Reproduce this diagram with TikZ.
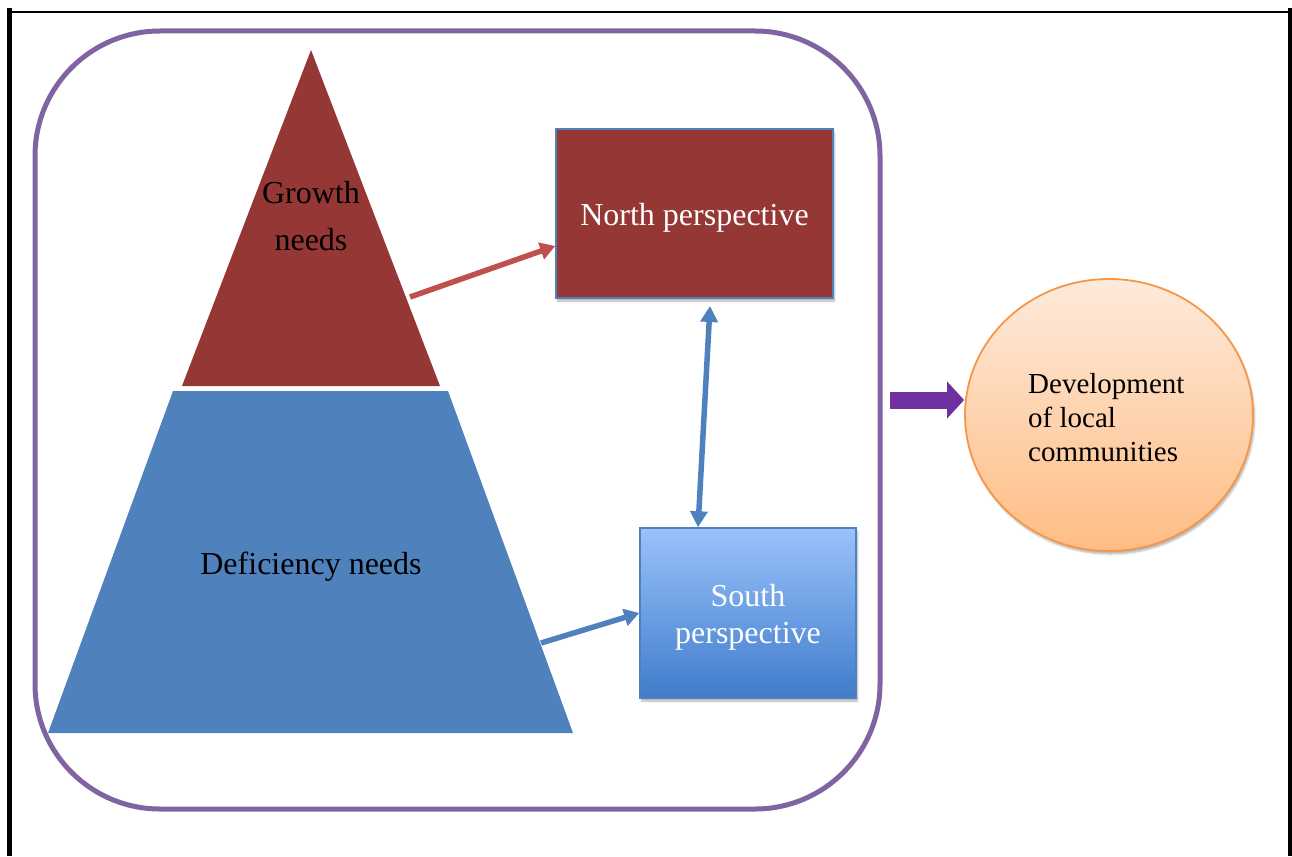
\documentclass[tikz,border=0pt]{standalone}
\usepackage{fontspec}
\setmainfont{Liberation Serif}
\usetikzlibrary{arrows.meta,shapes.geometric,shadows.blur}

\definecolor{darkred}{HTML}{953735}
\definecolor{offblue}{HTML}{4F81BD}
\definecolor{arrowred}{HTML}{C0504D}
\definecolor{framepurple}{HTML}{8064A2}
\definecolor{deeppurple}{HTML}{7030A0}
\definecolor{peachtop}{HTML}{FDEADB}
\definecolor{peachbot}{HTML}{FFBD84}
\definecolor{orangeedge}{HTML}{F79646}
\definecolor{skytop}{HTML}{9AC2FB}
\definecolor{skybot}{HTML}{3F7CCB}

\tikzset{
  big/.style={font=\fontsize{32}{38}\selectfont},
  softshadow/.style={blur shadow={shadow xshift=1.5pt,shadow yshift=-3pt,shadow opacity=30,shadow blur steps=6}},
  perspbox/.style={draw=offblue,line width=1.5pt,inner sep=0pt,softshadow},
  boxtext/.style={text=white,align=center,inner sep=0pt},
  redlink/.style={draw=arrowred,line width=5.5pt,-{Triangle[length=15pt,width=17pt]}},
  bluelink/.style={draw=offblue,line width=5.5pt,-{Triangle[length=15pt,width=17pt]}},
  twoway/.style={draw=offblue,line width=5.5pt,{Triangle[length=16pt,width=17pt]}-{Triangle[length=16pt,width=17pt]}},
  blockarrow/.style={draw=deeppurple,line width=17pt,-{Triangle[length=17pt,width=36pt]}},
}

\begin{document}
\begin{tikzpicture}[x=1pt,y=-1pt]
\useasboundingbox (0,0) rectangle (1292,856);

% page frame
\draw[line width=2.5pt] (8,12) -- (1290,12);
\draw[line width=5pt] (9.8,8) -- (9.8,856);
\draw[line width=4.5pt] (1290,8) -- (1290,856);

% rounded enclosure
\node[draw=framepurple,line width=5pt,rounded corners=125pt,
      minimum width=845,minimum height=778,inner sep=0pt] (enclosure) at (457.5,420) {};

% pyramid: growth needs (top) and deficiency needs (bottom)
\fill[darkred] (311,50) -- (440,386) -- (182,386) -- cycle;
\fill[offblue] (173,391) -- (448,391) -- (573,733) -- (48,733) -- cycle;
\node[align=center,font=\fontsize{32}{47}\selectfont] (growth) at (311,216) {Growth\\needs};
\node[big] (deficiency) at (311,567) {Deficiency needs};

% perspective boxes
\node[perspbox,fill=darkred,minimum width=277,minimum height=169] (north) at (694.5,213.5) {};
\node[boxtext,big] (northtext) at ([yshift=-4.5pt]north.center) {North perspective};
\node[perspbox,top color=skytop,bottom color=skybot,minimum width=216,minimum height=170] (south) at (748,613) {};
\node[boxtext,font=\fontsize{32}{37}\selectfont] (southtext) at ([yshift=-4pt]south.center) {South\\perspective};

% outcome
\node[ellipse,draw=orangeedge,line width=1.8pt,top color=peachtop,bottom color=peachbot,
      minimum width=288,minimum height=272,inner sep=0pt,softshadow] (devel) at (1109,415) {};
\node[anchor=west,align=left,inner sep=0pt,font=\fontsize{29}{34}\selectfont] (develtext) at (1028,417.5)
  {Development\\of local\\communities};

% connectors
\coordinate (growthedge) at (410,297);
\coordinate (deficedge) at (541,643);
\coordinate (linktop) at (710,306);
\coordinate (blockstart) at (890,400);

\draw[redlink] (growthedge) -- ([yshift=-32.5pt]north.west);
\draw[bluelink] (deficedge) -- (south.west);
\draw[twoway] (linktop) -- ([xshift=-50pt]south.north);
\draw[blockarrow] (blockstart) -- (blockstart -| devel.west);
\end{tikzpicture}
\end{document}
